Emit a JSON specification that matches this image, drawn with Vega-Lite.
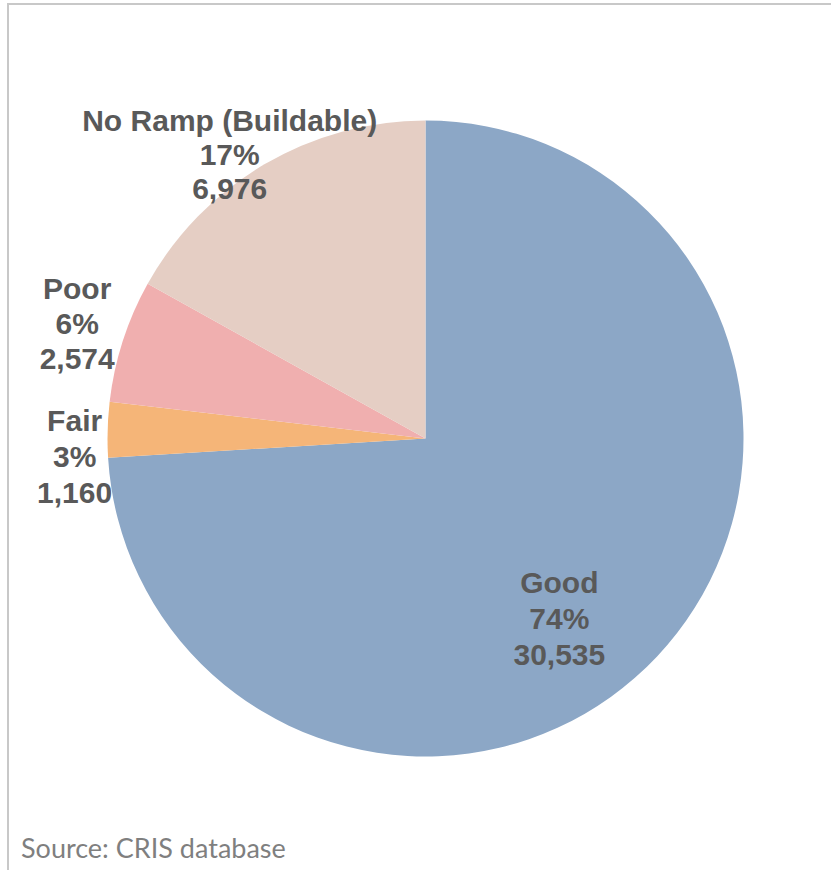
{
  "$schema": "https://vega.github.io/schema/vega-lite/v6.json",
  "width": 835,
  "height": 869,
  "autosize": "none",
  "padding": {"left": 8, "top": 4, "right": -12, "bottom": -3},
  "background": "white",
  "view": {"stroke": "#c8c8c8", "strokeWidth": 2, "fill": null},
  "config": {"view": {"stroke": "#c8c8c8", "strokeWidth": 2}, "style": {"cell": {"stroke": "#c8c8c8", "strokeWidth": 2}}},
  "title": {
    "text": "Source: CRIS database",
    "orient": "bottom",
    "anchor": "start",
    "frame": "group",
    "offset": -15,
    "baseline": "alphabetic",
    "dx": 13,
    "font": "Lato",
    "fontSize": 27,
    "fontWeight": "normal",
    "color": "#7f7f7f"
  },
  "data": {
    "values": [
      {"category": "Good", "count": 30535, "pct": 74, "rank": 1},
      {"category": "Fair", "count": 1160, "pct": 3, "rank": 2},
      {"category": "Poor", "count": 2574, "pct": 6, "rank": 3},
      {"category": "No Ramp (Buildable)", "count": 6976, "pct": 17, "rank": 4}
    ]
  },
  "transform": [
    {"calculate": "datum.category + '\\n' + datum.pct + '%\\n' + format(datum.count, ',')", "as": "label"}
  ],
  "encoding": {
    "theta": {"field": "count", "type": "quantitative", "stack": true},
    "order": {"field": "rank", "type": "quantitative"}
  },
  "layer": [
    {
      "mark": {"type": "arc", "outerRadius": 318},
      "encoding": {
        "color": {
          "field": "category",
          "type": "nominal",
          "scale": {
            "domain": ["Good", "Fair", "Poor", "No Ramp (Buildable)"],
            "range": ["#8CA7C6", "#F5B578", "#F0AFAF", "#E5CEC4"]
          },
          "legend": null
        }
      }
    },
    {
      "mark": {"type": "text", "radius": 225, "dx": -30, "dy": -9, "font": "Liberation Sans", "fontWeight": "bold", "fontSize": 30, "lineHeight": 36, "lineBreak": "\n", "align": "center", "baseline": "middle", "color": "#595959"},
      "encoding": {"text": {"condition": {"test": "datum.category === 'Good'", "field": "label"}, "value": ""}}
    },
    {
      "mark": {"type": "text", "radius": 351, "dx": 0, "dy": -7, "font": "Liberation Sans", "fontWeight": "bold", "fontSize": 30, "lineHeight": 36, "lineBreak": "\n", "align": "center", "baseline": "middle", "color": "#595959"},
      "encoding": {"text": {"condition": {"test": "datum.category === 'Fair'", "field": "label"}, "value": ""}}
    },
    {
      "mark": {"type": "text", "radius": 366, "dx": 0, "dy": -36, "font": "Liberation Sans", "fontWeight": "bold", "fontSize": 30, "lineHeight": 35, "lineBreak": "\n", "align": "center", "baseline": "middle", "color": "#595959"},
      "encoding": {"text": {"condition": {"test": "datum.category === 'Poor'", "field": "label"}, "value": ""}}
    },
    {
      "mark": {"type": "text", "radius": 343, "dx": -22, "dy": -21, "font": "Liberation Sans", "fontWeight": "bold", "fontSize": 30, "lineHeight": 34, "lineBreak": "\n", "align": "center", "baseline": "middle", "color": "#595959"},
      "encoding": {"text": {"condition": {"test": "datum.category === 'No Ramp (Buildable)'", "field": "label"}, "value": ""}}
    }
  ]
}
